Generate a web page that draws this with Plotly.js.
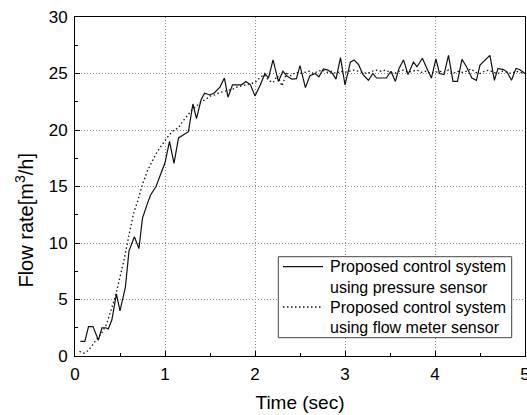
<!DOCTYPE html>
<html>
<head>
<meta charset="utf-8">
<script src="https://cdn.plot.ly/plotly-3.0.1.min.js"></script>
<style>html,body{margin:0;padding:0;background:#fff;}#chart{width:527px;height:415px;}</style>
</head>
<body>
<div id="chart"></div>
<script>
// Proposed control system using pressure sensor (solid)
var timePressure = [0.06,0.11,0.15,0.20,0.26,0.30,0.34,0.37,0.41,0.46,0.50,0.56,0.60,0.66,0.71,0.75,0.80,0.84,0.90,0.95,1.00,1.05,1.10,1.15,1.20,1.26,1.31,1.35,1.40,1.44,1.50,1.55,1.61,1.66,1.70,1.75,1.80,1.85,1.90,1.95,2.00,2.06,2.11,2.15,2.20,2.26,2.31,2.35,2.41,2.46,2.50,2.56,2.61,2.67,2.71,2.76,2.81,2.86,2.90,2.95,3.00,3.06,3.10,3.15,3.20,3.26,3.31,3.35,3.40,3.46,3.51,3.56,3.60,3.65,3.70,3.76,3.80,3.86,3.91,3.96,4.01,4.05,4.10,4.15,4.20,4.25,4.30,4.35,4.41,4.46,4.50,4.56,4.61,4.66,4.70,4.76,4.80,4.85,4.90,4.94,5.00];
var flowPressure = [1.3,1.3,2.6,2.6,1.4,2.5,2.5,2.4,3.2,5.5,4.0,6.1,9.3,10.55,9.5,12.2,13.4,14.25,15.0,16.0,17.1,19.0,17.05,19.3,19.55,19.85,22.3,21.0,22.65,23.25,23.1,23.3,23.8,24.6,22.9,24.0,24.0,24.0,24.3,24.0,23.0,24.0,25.0,24.6,26.2,24.3,25.2,24.8,24.5,24.55,25.7,23.75,24.8,25.0,24.7,25.4,25.3,25.0,24.5,26.4,24.0,26.0,26.2,25.8,24.9,24.4,25.0,24.6,24.6,24.6,25.2,24.3,25.45,26.2,24.9,26.0,25.6,26.35,25.45,24.6,26.3,25.0,24.9,26.6,24.3,24.3,26.25,25.6,24.6,24.4,25.75,26.2,26.6,24.4,25.45,25.35,25.15,24.4,25.45,25.35,25.0];

// Proposed control system using flow meter sensor (dotted)
var timeFlowMeter = [0.05,0.10,0.15,0.20,0.25,0.30,0.35,0.40,0.45,0.50,0.55,0.60,0.65,0.70,0.75,0.80,0.85,0.90,0.95,1.00,1.05,1.10,1.15,1.20,1.25,1.30,1.35,1.40,1.45,1.50,1.55,1.60,1.65,1.70,1.75,1.80,1.85,1.90,1.95,2.00,2.05,2.10,2.15,2.20,2.25,2.30,2.35,2.40,2.45,2.50,2.55,2.60,2.65,2.70,2.75,2.80,2.85,2.90,2.95,3.00,3.05,3.10,3.15,3.20,3.25,3.30,3.35,3.40,3.45,3.50,3.55,3.60,3.65,3.70,3.75,3.80,3.85,3.90,3.95,4.00,4.05,4.10,4.15,4.20,4.25,4.30,4.35,4.40,4.45,4.50,4.55,4.60,4.65,4.70,4.75,4.80,4.85,4.90,4.95,5.00];
var flowFlowMeter = [0.4,0.25,0.5,1.0,1.5,2.1,2.8,4.0,5.3,7.0,8.7,10.7,12.6,13.8,15.2,16.3,17.1,17.9,18.5,19.1,19.6,20.0,20.2,20.8,21.3,21.8,22.1,22.5,22.7,23.0,23.1,23.3,23.4,23.5,23.6,23.8,23.9,24.0,24.1,24.2,24.6,24.9,24.4,24.2,24.8,23.9,25.0,24.8,25.1,25.0,25.1,25.2,25.0,25.2,25.3,25.1,25.2,25.0,25.2,25.1,25.2,25.3,25.2,25.1,25.0,25.2,25.3,25.2,25.3,25.1,25.0,25.2,25.3,25.1,25.2,25.3,25.1,25.2,25.0,25.1,25.2,25.1,25.3,25.0,25.2,25.1,25.2,25.4,25.1,25.0,25.2,25.3,25.1,25.0,25.2,25.1,25.0,25.2,25.1,25.0];

var seriesLines = [['Proposed control system', 'using pressure sensor'], ['Proposed control system', 'using flow meter sensor']];
var xTitle = 'Time (sec)';
var yTitle = 'Flow rate[m<sup>3</sup>/h]';

var FONT = 'Liberation Sans, Arial, sans-serif';
var DOT = '1.5px,2.5px';

var traces = [
  {x: timePressure, y: flowPressure, type: 'scatter', mode: 'lines', name: seriesLines[0].join(' '),
   line: {color: '#111', width: 1.2}},
  {x: timeFlowMeter, y: flowFlowMeter, type: 'scatter', mode: 'lines', name: seriesLines[1].join(' '),
   line: {color: '#111', width: 1.3, dash: DOT}}
];

function axisBase(range, dtick, minorDtick, standoff) {
  return {
    range: range, dtick: dtick, tick0: 0, autorange: false,
    ticks: 'inside', ticklen: 5, tickwidth: 1, tickcolor: '#000',
    showline: true, linecolor: '#000', linewidth: 1, mirror: true,
    showgrid: true, gridcolor: '#888', gridwidth: 1, griddash: '1px,2px',
    zeroline: false, ticklabeloverflow: 'allow', ticklabelstandoff: standoff,
    tickfont: {family: FONT, size: 17, color: '#000'},
    minor: {dtick: minorDtick, ticks: 'inside', ticklen: 3, tickwidth: 1, tickcolor: '#000', showgrid: false}
  };
}

var xaxis = axisBase([0, 5], 1, 0.5, 3);
xaxis.title = {text: xTitle, font: {family: FONT, size: 19, color: '#000'}, standoff: 12};
var yaxis = axisBase([0, 30], 5, 2.5, 3);

// legend box (paper coordinates)
var LB = {x0: 0.4518, x1: 0.9704, y0: 0.054, y1: 0.2929};
var sampleX = [0.4622, 0.5511];
var textX = 0.5616;
var lineY = [0.2634, 0.2035, 0.1445, 0.0855];

var shapes = [
  {type: 'rect', xref: 'paper', yref: 'paper', x0: LB.x0, x1: LB.x1, y0: LB.y0, y1: LB.y1,
   line: {color: '#444', width: 1}, fillcolor: '#fff', layer: 'above'},
  {type: 'line', xref: 'paper', yref: 'paper', x0: sampleX[0], x1: sampleX[1], y0: lineY[0], y1: lineY[0],
   line: {color: '#111', width: 1.2}, layer: 'above'},
  {type: 'line', xref: 'paper', yref: 'paper', x0: sampleX[0], x1: sampleX[1], y0: lineY[2], y1: lineY[2],
   line: {color: '#111', width: 1.3, dash: DOT}, layer: 'above'}
];

var annotations = [{
  text: yTitle, xref: 'paper', yref: 'paper', x: -0.113, y: 0.40,
  xanchor: 'center', yanchor: 'middle', textangle: -90, showarrow: false,
  font: {family: FONT, size: 20, color: '#000'}
}];
var legendTexts = [seriesLines[0][0], seriesLines[0][1], seriesLines[1][0], seriesLines[1][1]];
legendTexts.forEach(function (t, i) {
  annotations.push({text: t, xref: 'paper', yref: 'paper', x: textX, y: lineY[i],
    xanchor: 'left', yanchor: 'middle', showarrow: false,
    font: {family: FONT, size: 16, color: '#000'}});
});

var layout = {
  width: 527, height: 415,
  margin: {l: 75, r: 2, t: 17, b: 59},
  paper_bgcolor: '#fff', plot_bgcolor: '#fff',
  font: {family: FONT, color: '#000'},
  showlegend: false,
  xaxis: xaxis, yaxis: yaxis,
  shapes: shapes,
  annotations: annotations
};

Plotly.newPlot('chart', traces, layout, {staticPlot: true, displayModeBar: false});
</script>
</body>
</html>
